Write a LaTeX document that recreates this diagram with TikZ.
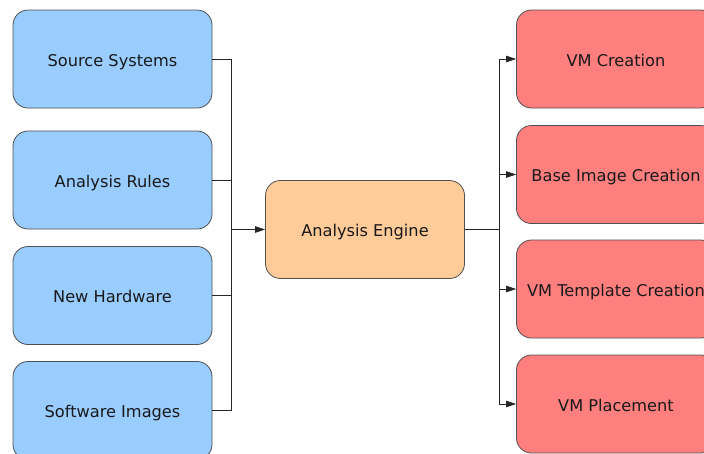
\documentclass[tikz,border=0pt]{standalone}
\usepackage{fontspec}
\setmainfont{DejaVu Sans}
\usetikzlibrary{arrows.meta}
\definecolor{bluefill}{HTML}{99CCFF}
\definecolor{orangefill}{HTML}{FFCC99}
\definecolor{redfill}{HTML}{FF7F7F}
\definecolor{edgegray}{HTML}{505050}
\begin{document}
\begin{tikzpicture}[x=1pt,y=-1pt,
  boxbase/.style={draw=edgegray, line width=0.8pt, rounded corners=15pt, minimum width=199pt, minimum height=98pt, inner sep=0pt, text height=14pt, text depth=0pt, font=\fontsize{16.2}{19}\selectfont, text=black!90},
  srcbox/.style={boxbase, fill=bluefill},
  engbox/.style={boxbase, fill=orangefill},
  outbox/.style={boxbase, fill=redfill},
  conn/.style={draw=black!85, line width=0.7pt},
  arr/.style={conn, -{Triangle[length=10pt,width=6.5pt]}}
]
\useasboundingbox (0,0) rectangle (704,453);
\clip (0,0) rectangle (704,453);
\fill[white] (0,0) rectangle (704,453);

\node[srcbox] (s1) at (112.5,59) {Source Systems};
\node[srcbox] (s2) at (112.5,180) {Analysis Rules};
\node[srcbox] (s3) at (112.5,295.5) {New Hardware};
\node[srcbox] (s4) at (112.5,410.5) {Software Images};

\node[engbox] (eng) at (365,229.5) {Analysis Engine};

\node[outbox] (r1) at (616,59) {VM Creation};
\node[outbox] (r2) at (616,174.5) {Base Image Creation};
\node[outbox] (r3) at (616,289) {VM Template Creation};
\node[outbox] (r4) at (616,404) {VM Placement};

\coordinate (busL) at (231,229.5);
\coordinate (busR) at (499,229.5);

\draw[conn] (s1.east) -| (busL);
\draw[conn] (s2.east) -| (busL);
\draw[conn] (s3.east) -| (busL);
\draw[conn] (s4.east) -| (busL);
\draw[arr] (busL) -- (eng.west);

\draw[conn] (eng.east) -- (busR);
\draw[arr] (busR) |- (r1.west);
\draw[arr] (busR) |- (r2.west);
\draw[arr] (busR) |- (r3.west);
\draw[arr] (busR) |- (r4.west);
\end{tikzpicture}
\end{document}
